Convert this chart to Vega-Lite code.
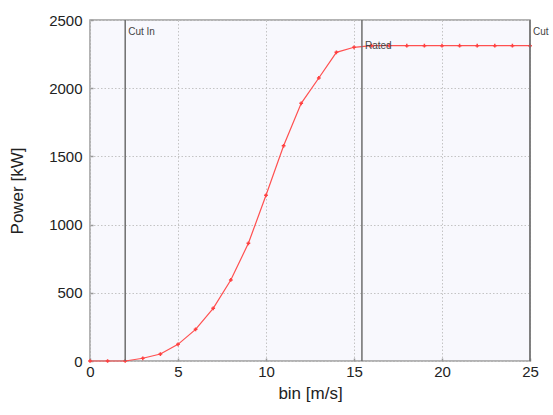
{
  "$schema": "https://vega.github.io/schema/vega-lite/v6.json",
  "width": 440,
  "height": 341,
  "autosize": {"type": "none"},
  "padding": {"left": 90, "top": 20, "right": 23, "bottom": 54},
  "background": "white",
  "config": {
    "font": "Liberation Sans",
    "view": {"fill": "#f8f8fd", "stroke": "#9a9a9a", "strokeWidth": 1.5},
    "axis": {
      "labelFont": "Liberation Sans",
      "titleFont": "Liberation Sans",
      "labelFontSize": 15,
      "titleFontSize": 17,
      "labelColor": "#222",
      "titleColor": "#222",
      "titleFontWeight": "normal",
      "labelFlush": false,
      "labelOverlap": false,
      "domain": false,
      "grid": true,
      "gridColor": "#c4c4c4",
      "gridDash": [1.5, 2],
      "gridWidth": 1,
      "ticks": true,
      "tickColor": "#999",
      "tickSize": -3,
      "tickWidth": 1.5
    }
  },
  "datasets": {
    "curve": [
      {"bin": 0, "power": 0},
      {"bin": 1, "power": 0},
      {"bin": 2, "power": 0},
      {"bin": 3, "power": 20},
      {"bin": 4, "power": 51},
      {"bin": 5, "power": 122},
      {"bin": 6, "power": 232},
      {"bin": 7, "power": 386},
      {"bin": 8, "power": 594},
      {"bin": 9, "power": 863},
      {"bin": 10, "power": 1215},
      {"bin": 11, "power": 1578},
      {"bin": 12, "power": 1889},
      {"bin": 13, "power": 2075},
      {"bin": 14, "power": 2263},
      {"bin": 15, "power": 2300},
      {"bin": 16, "power": 2312},
      {"bin": 17, "power": 2312},
      {"bin": 18, "power": 2312},
      {"bin": 19, "power": 2312},
      {"bin": 20, "power": 2312},
      {"bin": 21, "power": 2312},
      {"bin": 22, "power": 2312},
      {"bin": 23, "power": 2312},
      {"bin": 24, "power": 2312},
      {"bin": 25, "power": 2312}
    ],
    "marks": [
      {"bin": 2, "label": "Cut In", "ly": 2410},
      {"bin": 15.45, "label": "Rated", "ly": 2310},
      {"bin": 25, "label": "Cut", "ly": 2410}
    ]
  },
  "layer": [
    {
      "data": {"name": "curve"},
      "mark": {"type": "line", "color": "#ff5050", "strokeWidth": 1.2},
      "encoding": {
        "x": {
          "field": "bin", "type": "quantitative",
          "scale": {"domain": [0, 25], "nice": false, "zero": false},
          "axis": {"values": [0, 5, 10, 15, 20, 25], "format": "d", "title": "bin [m/s]", "labelPadding": 6, "titlePadding": 6}
        },
        "y": {
          "field": "power", "type": "quantitative",
          "scale": {"domain": [0, 2500], "nice": false},
          "axis": {"values": [0, 500, 1000, 1500, 2000, 2500], "format": "d", "title": "Power [kW]", "labelPadding": 11, "titlePadding": 22}
        }
      }
    },
    {
      "data": {"name": "curve"},
      "mark": {"type": "point", "shape": "cross", "filled": true, "color": "#ff4040", "size": 14, "opacity": 1},
      "encoding": {
        "x": {"field": "bin", "type": "quantitative"},
        "y": {"field": "power", "type": "quantitative"}
      }
    },
    {
      "data": {"name": "marks"},
      "mark": {"type": "rule", "color": "#6e6e6e", "strokeWidth": 1.5},
      "encoding": {
        "x": {"field": "bin", "type": "quantitative"}
      }
    },
    {
      "data": {"name": "marks"},
      "mark": {"type": "text", "align": "left", "baseline": "middle", "dx": 3, "fontSize": 10, "color": "#444"},
      "encoding": {
        "x": {"field": "bin", "type": "quantitative"},
        "y": {"field": "ly", "type": "quantitative"},
        "text": {"field": "label"}
      }
    }
  ]
}
